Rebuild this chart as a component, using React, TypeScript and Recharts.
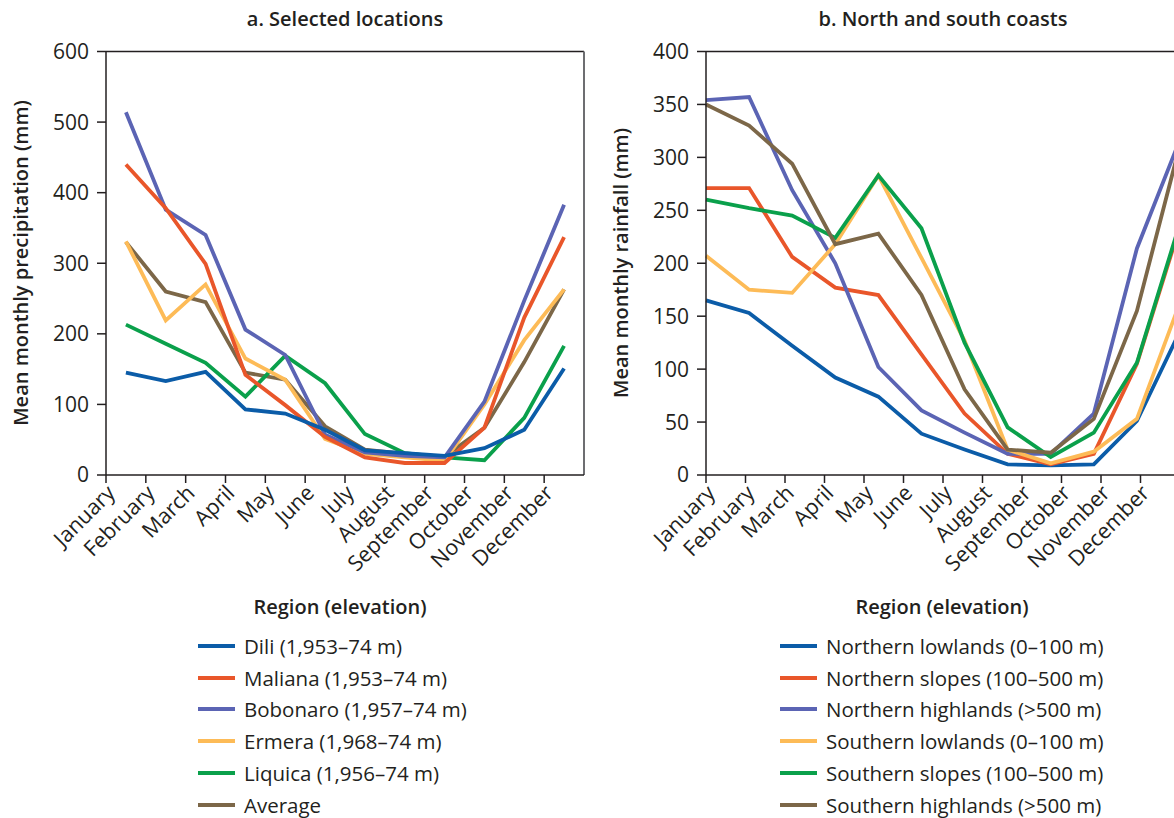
import React from 'react';
import { LineChart, Line, XAxis, YAxis, ReferenceLine } from 'recharts';

const months = ['January', 'February', 'March', 'April', 'May', 'June', 'July', 'August', 'September', 'October', 'November', 'December'];

// Panel a: selected locations (mm)
const dili = [145, 133, 146, 93, 87, 64, 35, 31, 27, 38, 64, 151];
const maliana = [440, 378, 299, 142, 99, 54, 25, 17, 17, 67, 223, 337];
const bobonaro = [514, 376, 340, 206, 170, 57, 32, 27, 25, 104, 247, 383];
const ermera = [331, 219, 270, 165, 135, 51, 30, 25, 20, 100, 191, 263];
const liquica = [213, 186, 159, 111, 169, 130, 58, 31, 25, 21, 81, 183];
const average = [330, 260, 245, 145, 135, 69, 36, 30, 26, 67, 160, 263];

// Panel b: north and south coasts (mm)
const northLow = [165, 153, 122, 92, 74, 39, 24, 10, 9, 10, 51, 136];
const northSlopes = [271, 271, 206, 177, 170, 114, 58, 20, 10, 20, 105, 235];
const northHigh = [354, 357, 269, 200, 102, 61, 40, 20, 20, 58, 214, 317];
const southLow = [207, 175, 172, 218, 283, 205, 127, 24, 11, 22, 53, 163];
const southSlopes = [260, 252, 245, 224, 283, 233, 125, 45, 17, 40, 106, 238];
const southHigh = [350, 330, 294, 218, 228, 170, 81, 24, 21, 53, 155, 312];

const ticksA = [0, 100, 200, 300, 400, 500, 600];
const ticksB = [0, 50, 100, 150, 200, 250, 300, 350, 400];

const seriesA = [
  { key: 'dili', name: 'Dili (1,953–74 m)', color: '#0b5ca8', values: dili },
  { key: 'maliana', name: 'Maliana (1,953–74 m)', color: '#e9562a', values: maliana },
  { key: 'bobonaro', name: 'Bobonaro (1,957–74 m)', color: '#5b64b4', values: bobonaro },
  { key: 'ermera', name: 'Ermera (1,968–74 m)', color: '#fdbb57', values: ermera },
  { key: 'liquica', name: 'Liquica (1,956–74 m)', color: '#0aa04b', values: liquica },
  { key: 'average', name: 'Average', color: '#7c6748', values: average },
];

const seriesB = [
  { key: 'nl', name: 'Northern lowlands (0–100 m)', color: '#0b5ca8', values: northLow },
  { key: 'ns', name: 'Northern slopes (100–500 m)', color: '#e9562a', values: northSlopes },
  { key: 'nh', name: 'Northern highlands (>500 m)', color: '#5b64b4', values: northHigh },
  { key: 'sl', name: 'Southern lowlands (0–100 m)', color: '#fdbb57', values: southLow },
  { key: 'ss', name: 'Southern slopes (100–500 m)', color: '#0aa04b', values: southSlopes },
  { key: 'sh', name: 'Southern highlands (>500 m)', color: '#7c6748', values: southHigh },
];

// Panel a: categories centred between boundary ticks
const dataA = months.map((m, i) => {
  const row: any = { x: i + 0.5, month: m };
  seriesA.forEach((s) => (row[s.key] = s.values[i]));
  return row;
});
// Panel b: points spread over the full width, ticks at twelfths
const dataB = months.map((m, i) => {
  const row: any = { x: i, month: m };
  seriesB.forEach((s) => (row[s.key] = s.values[i]));
  return row;
});

const xTicksA = months.map((_, i) => i);
const xTicksB = months.map((_, i) => (i * 11) / 12);

const TEXT = '#231f20';
const FONT = "'Open Sans', 'Noto Sans', sans-serif";

const makeTick = (toIndex: (v: number) => number) => (props: any) => {
  const { x, y, payload } = props;
  const label = months[toIndex(payload.value)] ?? '';
  const ax = x + 5;
  const ay = y + 4;
  return (
    <text
      x={ax}
      y={ay}
      transform={`rotate(-45 ${ax} ${ay})`}
      textAnchor="end"
      dy="0.35em"
      fontSize={21.5}
      fill={TEXT}
      fontFamily={FONT}
    >
      {label}
    </text>
  );
};

const tickA = makeTick((v) => Math.round(v));
const tickB = makeTick((v) => Math.round((v * 12) / 11));

const Legend = ({ series, left, titleCenter }: any) => (
  <>
    <div
      style={{
        position: 'absolute',
        left: titleCenter - 150,
        width: 300,
        top: 593,
        textAlign: 'center',
        fontWeight: 600,
        fontSize: 20,
        lineHeight: '28px',
      }}
    >
      Region (elevation)
    </div>
    {series.map((s: any, i: number) => (
      <div
        key={s.key}
        style={{
          position: 'absolute',
          left,
          top: 646 + i * 31.7 - 14,
          height: 28,
          display: 'flex',
          alignItems: 'center',
          whiteSpace: 'nowrap',
        }}
      >
        <span style={{ display: 'inline-block', width: 37, height: 4, background: s.color, marginRight: 9 }} />
        <span style={{ fontSize: 20.5, lineHeight: '28px' }}>{s.name}</span>
      </div>
    ))}
  </>
);

const yTitleStyle: React.CSSProperties = {
  position: 'absolute',
  top: 263 - 14,
  width: 400,
  textAlign: 'center',
  fontWeight: 600,
  fontSize: 20,
  lineHeight: '28px',
  transform: 'rotate(-90deg)',
  whiteSpace: 'nowrap',
};

const titleStyle: React.CSSProperties = {
  position: 'absolute',
  width: 340,
  top: 5,
  textAlign: 'center',
  fontWeight: 600,
  fontSize: 20,
  lineHeight: '28px',
};

export default function App() {
  return (
    <div
      style={{
        position: 'fixed',
        left: 0,
        top: 0,
        width: 1174,
        height: 818,
        overflow: 'hidden',
        background: '#fff',
        fontFamily: FONT,
        color: TEXT,
      }}
    >
      {/* Titles */}
      <div style={{ ...titleStyle, left: 345 - 170 }}>a. Selected locations</div>
      <div style={{ ...titleStyle, left: 943 - 170 }}>b. North and south coasts</div>

      {/* Y axis titles */}
      <div style={{ ...yTitleStyle, left: 21 - 200 }}>Mean monthly precipitation (mm)</div>
      <div style={{ ...yTitleStyle, left: 621 - 200 }}>Mean monthly rainfall (mm)</div>

      <div style={{ position: 'absolute', left: 0, top: 0 }}>
        <LineChart width={600} height={600} data={dataA} margin={{ top: 51.5, right: 16, left: 0, bottom: 0 }}>
          <XAxis
            type="number"
            dataKey="x"
            domain={[0, 12]}
            ticks={xTicksA}
            interval={0}
            height={125}
            tickSize={8}
            tickMargin={2}
            axisLine={{ stroke: TEXT, strokeWidth: 1.5 }}
            tickLine={{ stroke: TEXT, strokeWidth: 1.5 }}
            tick={tickA}
          />
          <YAxis
            type="number"
            domain={[0, 600]}
            ticks={ticksA}
            interval={0}
            width={106}
            tickSize={9}
            tickMargin={8}
            axisLine={{ stroke: TEXT, strokeWidth: 1.5 }}
            tickLine={{ stroke: TEXT, strokeWidth: 1.5 }}
            tick={{ fontSize: 21, fill: TEXT, fontFamily: FONT }}
          />
          <ReferenceLine y={600} stroke={TEXT} strokeWidth={1.5} />
          <ReferenceLine x={12} stroke="#6d6e71" strokeWidth={2} />
          {[...seriesA].reverse().map((s) => (
            <Line
              key={s.key}
              type="linear"
              dataKey={s.key}
              stroke={s.color}
              strokeWidth={3.8}
              dot={false}
              isAnimationActive={false}
            />
          ))}
        </LineChart>
      </div>

      <div style={{ position: 'absolute', left: 600, top: 0 }}>
        <LineChart width={600} height={600} data={dataB} margin={{ top: 51.5, right: 20, left: 0, bottom: 0 }}>
          <XAxis
            type="number"
            dataKey="x"
            domain={[0, 11]}
            ticks={xTicksB}
            interval={0}
            height={125}
            tickSize={8}
            tickMargin={2}
            axisLine={{ stroke: TEXT, strokeWidth: 1.5 }}
            tickLine={{ stroke: TEXT, strokeWidth: 1.5 }}
            tick={tickB}
          />
          <YAxis
            type="number"
            domain={[0, 400]}
            ticks={ticksB}
            interval={0}
            width={106}
            tickSize={9}
            tickMargin={8}
            axisLine={{ stroke: TEXT, strokeWidth: 1.5 }}
            tickLine={{ stroke: TEXT, strokeWidth: 1.5 }}
            tick={{ fontSize: 21, fill: TEXT, fontFamily: FONT }}
          />
          <ReferenceLine y={400} stroke={TEXT} strokeWidth={1.5} />
          <ReferenceLine x={11} stroke="#6d6e71" strokeWidth={2} />
          {seriesB.map((s) => (
            <Line
              key={s.key}
              type="linear"
              dataKey={s.key}
              stroke={s.color}
              strokeWidth={3.8}
              dot={false}
              isAnimationActive={false}
            />
          ))}
        </LineChart>
      </div>

      <Legend series={seriesA} left={198} titleCenter={340} />
      <Legend series={seriesB} left={780} titleCenter={942} />
    </div>
  );
}
